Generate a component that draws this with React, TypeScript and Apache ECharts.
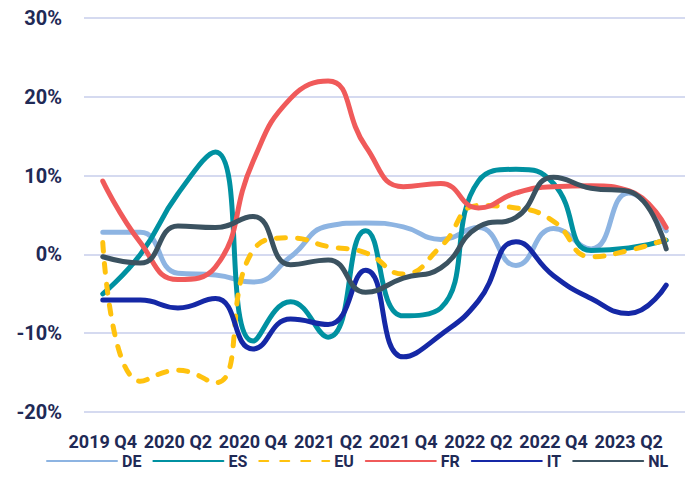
import React, { useEffect, useRef } from "react";
import * as echarts from "echarts";

const categories = [
  "2019 Q4", "2020 Q1", "2020 Q2", "2020 Q3", "2020 Q4", "2021 Q1", "2021 Q2", "2021 Q3",
  "2021 Q4", "2022 Q1", "2022 Q2", "2022 Q3", "2022 Q4", "2023 Q1", "2023 Q2", "2023 Q3",
];

const DE = [2.8, 2.8, -2.4, -2.6, -3.5, -0.3, 3.6, 4.0, 3.5, 1.9, 3.4, -1.4, 3.3, 0.7, 7.8, 3.0];
const ES = [-5.0, 0.0, 7.7, 13.0, -11.0, -6.0, -10.5, 3.0, -7.8, -6.8, 9.3, 10.8, 9.0, 0.5, 0.8, 1.8];
const EU = [1.5, -16.1, -14.7, -16.3, 0.5, 2.1, 1.0, 0.2, -2.5, 1.0, 6.2, 5.9, 4.2, -0.3, 0.5, 1.9];
const FR = [9.3, 1.5, -3.2, -1.6, 11.8, 19.8, 22.0, 13.7, 8.6, 9.0, 5.9, 7.8, 8.6, 8.7, 8.1, 3.4];
const IT = [-5.8, -5.8, -6.8, -5.6, -12.0, -8.2, -8.9, -2.0, -13.0, -10.2, -5.9, 1.6, -2.7, -5.6, -7.5, -3.9];
const NL = [-0.3, -1.1, 3.6, 3.4, 4.8, -1.3, -0.7, -4.8, -3.0, -1.7, 3.5, 4.7, 9.8, 8.4, 8.0, 0.7];

const seriesNames = ["DE", "ES", "EU", "FR", "IT", "NL"];
const seriesData = [DE, ES, EU, FR, IT, NL];
const colors = ["#8db4e2", "#0091a1", "#ffc20e", "#f05a5a", "#1528a6", "#3b5260"];

const TEXT = "#1f2a56";
const FONT = "Roboto";

export default function App() {
  const ref = useRef<HTMLDivElement>(null);
  useEffect(() => {
    if (!ref.current) return;
    const chart = echarts.init(ref.current, undefined, { renderer: "svg" });
    chart.setOption({
      animation: false,
      grid: { left: 84, right: 12, top: 18, bottom: 85 },
      legend: {
        data: seriesNames,
        left: 46,
        top: 452,
        width: 651,
        padding: 0,
        itemWidth: 70,
        itemHeight: 14,
        itemGap: 11,
        itemStyle: { opacity: 0 },
        textStyle: { color: TEXT, fontFamily: FONT, fontWeight: "bold", fontSize: 16, lineHeight: 18 },
      },
      xAxis: {
        type: "category",
        data: categories,
        boundaryGap: true,
        axisLine: { show: false },
        axisTick: { show: false },
        axisLabel: {
          interval: 1,
          margin: 20,
          color: TEXT,
          fontFamily: FONT,
          fontWeight: "bold",
          fontSize: 18,
          lineHeight: 18,
        },
      },
      yAxis: {
        type: "value",
        min: -20,
        max: 30,
        interval: 10,
        axisLine: { show: false },
        axisTick: { show: false },
        splitLine: { lineStyle: { color: "#d5daf0", width: 2 } },
        axisLabel: {
          formatter: "{value}%",
          margin: 22,
          color: TEXT,
          fontFamily: FONT,
          fontWeight: "bold",
          fontSize: 20,
        },
      },
      series: seriesNames.map((name, i) => ({
        name,
        type: "line",
        data: seriesData[i],
        smooth: true,
        symbol: "none",
        color: colors[i],
        lineStyle: {
          color: colors[i],
          width: 5,
          cap: "round",
          join: "round",
          type: name === "EU" ? [9, 12] : "solid",
        },
      })),
    });
    return () => chart.dispose();
  }, []);
  return (
    <div
      ref={ref}
      style={{ position: "fixed", left: 0, top: 0, width: 697, height: 497, background: "#fff" }}
    />
  );
}
